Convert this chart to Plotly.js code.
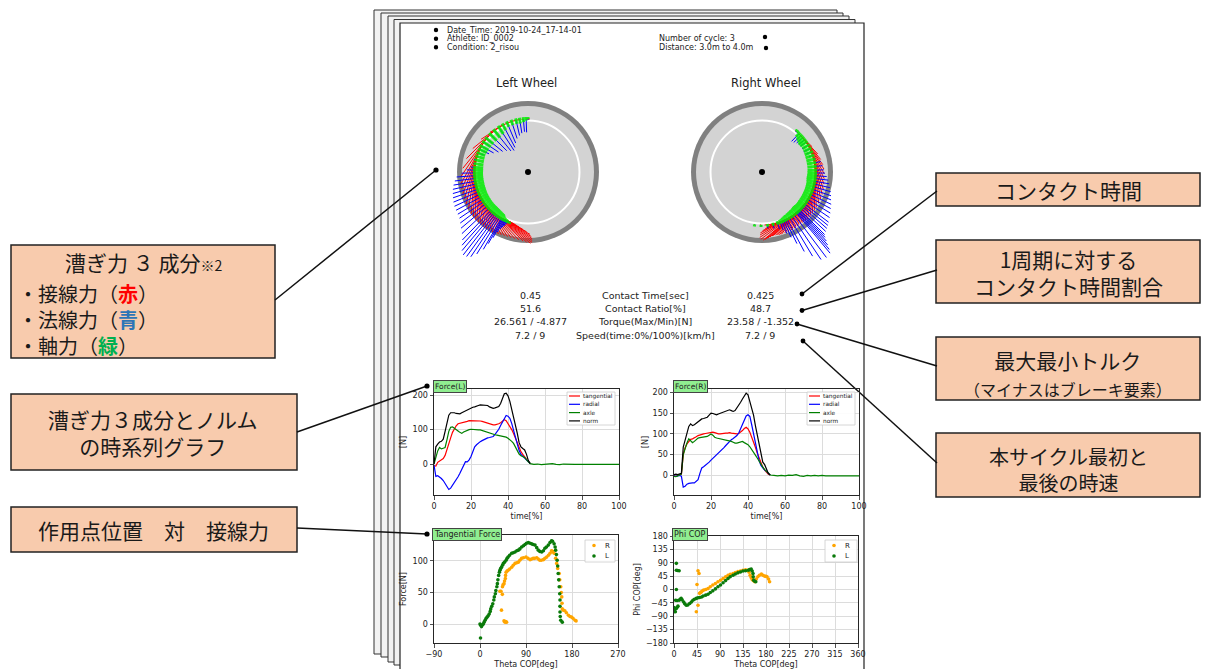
<!DOCTYPE html>
<html><head><meta charset="utf-8">
<script src="https://cdn.plot.ly/plotly-3.0.1.min.js"></script>
<style>html,body{margin:0;padding:0;background:#fff;}#chart{width:1210px;height:669px;}</style>
</head><body><div id="chart"></div>
<script>
// ---------------- DATA ----------------
const timeContact = [0,1,2,3,4,5,6,7,8,9,10,11,12,13,14,15,16,17,18,19,20,21,22,23,24,25,26,27,28,29,30,31,32,33,34,35,36,37,38,39,40,41,42,43,44,45,46,47,48,49,50,51,52];
const timeTail = [54,56,58,60,62,64,66,68,70,72,74,76,78,80,82,84,86,88,90,92,94,96,98,100];
const seriesNames = ['tangential','radial','axle','norm'];
const seriesColors = ['#ff0000','#0000ff','#008000','#000000'];
const wheelColors = ['#ff0000','#0000ff','#00ee00'];

// Left wheel force components [N]
const tanL = [-5,-6,5,9,12,16,25,40,58,76,92,103,111,117,118,119,120,122,124,126,126,127,126,126,125,125,124,122,120,118,116,115,114,114,115,117,120,124,129,126,118,110,100,89,75,60,46,36,28,20,13,7,1];
const radL = [-3,-36,-34,-37,-42,-48,-58,-68,-74,-70,-62,-55,-47,-37,-27,-17,-4,7,6,12,22,36,50,56,61,65,68,71,74,76,77,78,80,86,93,101,112,123,134,141,139,133,118,98,78,58,39,28,22,17,11,4,1];
const axlL = [0,20,38,48,44,46,48,70,95,107,108,104,101,96,92,89,93,96,98,100,101,100,100,99,99,99,97,96,95,93,91,89,87,85,84,83,82,81,80,78,75,71,66,60,50,40,29,24,21,19,12,5,1];
const normL = [0,50,58,64,66,72,95,120,142,149,150,149,147,146,146,149,152,155,158,161,163,165,166,167,170,172,172,172,172,170,166,163,162,163,165,167,176,190,204,206,198,182,160,138,114,90,62,50,45,41,28,10,2];
const axlTailL = [-1,0,-2,-1,-2,1,-1,-2,0,-1,-2,-1,-1,0,-1,-1,0,-1,-1,-1,0,-1,-1,-1];

// Right wheel force components [N]
const tanR = [-1,-2,0,1,3,50,67,76,83,87,88,90,93,96,98,99,100,101,102,103,104,104,103,101,100,100,101,102,102,102,103,102,101,100,100,101,104,108,113,116,112,104,92,81,68,54,41,30,20,13,8,3,1];
const radR = [-1,-2,-1,0,-2,-28,-26,-21,-19,-18,-18,-18,-15,-10,5,18,21,24,27,32,37,41,45,50,54,58,63,67,72,77,82,86,89,92,96,102,112,122,134,143,146,142,122,100,72,50,36,24,18,13,10,5,1];
const axlR = [-2,-3,-1,1,3,50,66,78,88,84,79,82,87,90,91,92,92,93,94,97,100,97,92,90,89,88,88,87,86,85,84,82,80,78,78,79,81,82,79,77,74,69,63,56,49,42,34,27,20,14,9,4,1];
const normR = [2,3,2,3,5,68,84,100,118,124,120,122,126,130,134,136,137,138,140,145,150,149,147,146,148,150,151,153,155,157,158,156,154,156,162,168,176,184,192,198,194,178,160,145,120,98,68,45,32,26,15,5,2];
const axlTailR = [0,-1,0,-1,1,0,2,-1,-2,0,-1,0,-1,0,-1,-1,0,-1,-1,-1,-1,-1,-1,-1];

// Theta COP [deg] at each contact sample (for the wheel vector plots)
const thetaWheelL = [0,2,5,9,13,18,23,28,33,39,45,51,56,61,65,69,73,77,81,85,88,91,94,97,100,103,106,109,112,115,118,121,124,127,130,133,136,138,140,142,144,146,148,150,151,152,153,154,155,156,157,158,160];
const thetaWheelR = [40,40,41,41,42,44,47,50,53,56,60,64,68,72,76,80,84,88,91,94,97,100,103,106,109,112,115,118,121,124,127,129,131,133,135,136,137,138,139,140,143,146,149,152,154,156,158,160,163,168,174,181,188];

// Tangential force vs Theta COP
const tfThetaL = [1,0,1.5,3,5,6.5,8,10,12,14,16,18,20,21,23,25,27,28,30,31,33,34,35,36.5,38,39,40.5,42,44,45.7,48,51,53,55,58,62,65,68.5,72,75,78,81.5,85,88,91,94.6,98,101,104,107.6,111,114,117,120.7,124,127,130,133.7,137,140,142,145,147,148,149.5,151,152,153,154,155,156,156.5,156.5,156.5,157,158,161];
const tfForceL = [-22,0,-2,-4,-1,0,3,6,9,11,13,16,20,24,28,32,38,43,48,53,59,64,70,77,82,85,88,90,93,96,98,101,104,106,109,112,113,114,116,117,119,122,124,126,128,129,128,127,126,125,121,117,115,114,116,120,122,125,129,132,131,127,122,117,110,101,92,80,70,59,48,38,28,19,12,6,3];
const tfThetaR = [39,41,42,43.7,44,45,47,48,49.6,50,51,53,55,58,62,65,68.5,72,75,78,81.5,85,90,94,98,101,104,107,111,114,117,120,124,127,130.5,134,137,140,142,145,148,150,152,155,156,158,159,160,160.5,161,163,166,169,173,176,179,182,186,188,47,49,52,50];
const tfForceR = [52,52,22,47,59,62,64,68,72,77,82,84,85,87,90,93,96,97,98,101,104,105,106,104,102,103,104,104,105,103,101,101,102,104,106,109,112,116,115,112,104,96,88,80,70,59,50,43,33,24,22,21,18,14,12,11,9,6,5,5,3,3,4];

// Phi COP vs Theta COP
const phiThetaL = [4.6,4.6,7,10,4.6,0,1,2.6,4.6,6,7.8,3.3,6,10,12,14,16,19,21,24,27,30.7,34,37,40,43.7,47,50,54,57,62,66.5,71,76,81,86,91,96,101,105.7,110,115.5,120,125,130,135,140,145,148,151,153,154.6,155,156,158,160];
const phiL = [88,65,64,63,0,-61,-68,-75,-64,-60,-56,-36,-37,-36,-33,-30,-35,-42,-48,-53,-52,-47,-42,-36,-33,-30,-28,-27,-25,-22,-19,-16,-10,-4.5,2,9,15,22.5,30,37,43,48,52,56,59,62,63,65,67,69,62,54,43,31.5,28,26];
const phiThetaR = [43.7,45,47,47,49,50,52,53.5,56,58,62,66.5,71,76,81,86,91,96,101,105.7,110,115.5,120,125,130,135,140,145,147,149,151,153,155,158,161,164,167,171,174,177,180,182,185,187];
const phiR = [-75,17,-53,63,54,-13,-10,-8,-4,-2,0,3,9,15,20,26,31,37,43,48,51,54,57,60,62,65,66,65,58,48,40,34,30,26,35,43,48,52,48,45,44,43,35,26];

// Header / statistics text
const headerLeft = ['Date_Time: 2019-10-24_17-14-01','Athlete: ID_0002','Condition: 2_risou'];
const headerRight = ['Number of cycle: 3','Distance: 3.0m to 4.0m'];
const statLabels = ['Contact Time[sec]','Contact Ratio[%]','Torque(Max/Min)[N]','Speed(time:0%/100%)[km/h]'];
const statLeft = ['0.45','51.6','26.561 / -4.877','7.2 / 9'];
const statRight = ['0.425','48.7','23.58 / -1.352','7.2 / 9'];

// ---------------- HELPERS ----------------
const W = 1210, H = 669;
const px = x => x / W;
const py = y => 1 - y / H;
const FONT = 'DejaVu Sans';
const JFONT = 'Noto Sans CJK JP';
const shapes = [];
const annotations = [];

function rectPx(x0, y0, x1, y1, fill, lc, lw, layer) {
  shapes.push({type:'rect', xref:'paper', yref:'paper', x0:px(x0), x1:px(x1), y0:py(y1), y1:py(y0),
    fillcolor:fill, line:{color:lc, width:lw}, layer:layer || 'below'});
}
function linePx(x0, y0, x1, y1, c, w, layer) {
  shapes.push({type:'line', xref:'paper', yref:'paper', x0:px(x0), y0:py(y0), x1:px(x1), y1:py(y1),
    line:{color:c, width:w}, layer:layer || 'below'});
}
function dotPx(cx, cy, r, c, layer) {
  shapes.push({type:'circle', xref:'paper', yref:'paper', x0:px(cx - r), x1:px(cx + r), y0:py(cy + r), y1:py(cy - r),
    fillcolor:c, line:{color:c, width:0}, layer:layer || 'below'});
}
function txt(x, y, text, size, o) {
  o = o || {};
  annotations.push({xref:'paper', yref:'paper', x:px(x), y:py(y), text:text, showarrow:false,
    xanchor:o.xanchor || 'center', yanchor:o.yanchor || 'middle', align:o.align || 'center',
    font:{family:o.family || FONT, size:size, color:o.color || '#222'},
    bgcolor:o.bgcolor, bordercolor:o.bordercolor, borderwidth:o.borderwidth || 0, borderpad:o.borderpad || 0});
}

// ---------------- PAGES ----------------
const pages = [[374,10,837,654],[381,13,843,657],[388,16,849,662],[394,19.5,855,665]];
pages.forEach(p => rectPx(p[0], p[1], p[2], p[3], '#f2f2f2', '#333333', 1));
rectPx(400, 23, 864, 700, '#ffffff', '#222222', 1.2);

// header
headerLeft.forEach((t, i) => { const y = [30, 38.7, 47.3][i]; dotPx(436, y, 2.2, '#000'); txt(447, y, t, 8, {xanchor:'left'}); });
headerRight.forEach((t, i) => { const y = [38.3, 47][i]; txt(659, y, t, 8, {xanchor:'left'}); });
dotPx(765, 37, 2.2, '#000'); dotPx(766, 48, 2.2, '#000');

txt(526, 83, 'Left Wheel', 11.5);
txt(766, 83, 'Right Wheel', 11.5);

// stats
const statY = [295, 308.3, 321.7, 335];
statLabels.forEach((t, i) => {
  txt(530, statY[i], statLeft[i], 9.5);
  txt(645, statY[i], t, 9.5);
  txt(760, statY[i], statRight[i], 9.5);
});

// ---------------- CALLOUT BOXES ----------------
const BOXF = '#f8cbad', BOXL = '#222222';
rectPx(11, 245, 275, 358, BOXF, BOXL, 1.5);
rectPx(11, 394, 297, 470, BOXF, BOXL, 1.5);
rectPx(11, 507, 297, 552, BOXF, BOXL, 1.5);
rectPx(936, 173, 1200, 206, BOXF, BOXL, 1.5);
rectPx(936, 240, 1200, 303, BOXF, BOXL, 1.5);
rectPx(936, 337, 1200, 400, BOXF, BOXL, 1.5);
rectPx(936, 433, 1200, 497, BOXF, BOXL, 1.5);

const jt = {family:JFONT, color:'#1a1a1a'};
txt(143, 262, '漕ぎ力 ３ 成分<span style="font-size:14px">※2</span>', 21, jt);
txt(18, 319, '・接線力（<span style="color:#ff0000;font-weight:bold">赤</span>）<br>' +
             '・法線力（<span style="color:#2e75b6;font-weight:bold">青</span>）<br>' +
             '・軸力（<span style="color:#00b050;font-weight:bold">緑</span>）', 20, Object.assign({xanchor:'left', align:'left'}, jt));
txt(153, 432.5, '漕ぎ力３成分とノルム<br>の時系列グラフ', 21, jt);
txt(153, 530, '作用点位置　対　接線力', 21, jt);
txt(1068, 190, 'コンタクト時間', 21, jt);
txt(1068, 272.5, '1周期に対する<br>コンタクト時間割合', 21, jt);
txt(1068, 373.5, '最大最小トルク<br><span style="font-size:16px">（マイナスはブレーキ要素）</span>', 21, jt);
txt(1068, 469.5, '本サイクル最初と<br>最後の時速', 20, jt);

// callout lines + dots
linePx(275, 300, 436, 170, '#111', 1.5); dotPx(436, 170, 2.6, '#000');
linePx(297, 432, 427, 386, '#111', 1.5); dotPx(427, 386, 2.6, '#000');
linePx(297, 528, 427, 534, '#111', 1.5); dotPx(427, 534, 2.6, '#000');
linePx(802, 294, 937, 191, '#111', 1.5); dotPx(802, 294, 2.4, '#000');
linePx(802, 310.5, 937, 270, '#111', 1.5); dotPx(802, 310.5, 2.4, '#000');
linePx(797, 324, 937, 366, '#111', 1.5); dotPx(797, 324, 2.4, '#000');
linePx(803, 341, 937, 463, '#111', 1.5); dotPx(803, 341, 2.4, '#000');

// ---------------- WHEELS ----------------
function wheelShapes(xr, yr) {
  const c = (r, fill, lc, lw) => shapes.push({type:'circle', xref:xr, yref:yr, x0:-r, x1:r, y0:-r, y1:r,
    fillcolor:fill, line:{color:lc, width:lw}, layer:'below'});
  c(71, '#808080', '#808080', 0);
  c(66, '#d3d3d3', '#d3d3d3', 0);
  c(51.5, 'rgba(0,0,0,0)', '#ffffff', 2);
  c(3, '#000000', '#000000', 0);
}
wheelShapes('x5', 'y5');
wheelShapes('x6', 'y6');

function wheelTraces(theta, ft, fr, fa, dir, xa, ya) {
  const R0 = 53, k = 0.37, kg = 0.08;
  const seg = [{x:[], y:[]}, {x:[], y:[]}, {x:[], y:[]}];
  theta.forEach((th, i) => {
    const phi = (90 + dir * th) * Math.PI / 180;
    const ux = Math.cos(phi), uy = Math.sin(phi);
    const tx = -dir * uy, ty = dir * ux;
    const bx = R0 * ux, by = R0 * uy;
    seg[0].x.push(bx, bx + k * ft[i] * tx, null); seg[0].y.push(by, by + k * ft[i] * ty, null);
    seg[1].x.push(bx, bx + k * fr[i] * ux, null); seg[1].y.push(by, by + k * fr[i] * uy, null);
    seg[2].x.push(bx + 2 * ux, bx - kg * fa[i] * ux, null); seg[2].y.push(by + 2 * uy, by - kg * fa[i] * uy, null);
  });
  const widths = [1, 1, 3];
  return seg.map((s, j) => ({type:'scatter', mode:'lines', x:s.x, y:s.y, xaxis:xa, yaxis:ya,
    line:{color:wheelColors[j], width:widths[j]}, opacity: j === 2 ? 0.85 : 1, hoverinfo:'skip', showlegend:false}));
}

// ---------------- TRACES ----------------
const traces = [];
function forceTraces(tan, rad, axl, norm, axlTail, xa, ya) {
  const ys = [tan, rad, axl, norm];
  ys.forEach((y, j) => {
    let x = timeContact, yy = y;
    if (j === 2) { x = timeContact.concat(timeTail); yy = y.concat(axlTail); }
    traces.push({type:'scatter', mode:'lines', x:x, y:yy, xaxis:xa, yaxis:ya, name:seriesNames[j],
      line:{color:seriesColors[j], width:1.2}, showlegend:false, hoverinfo:'skip'});
  });
}
forceTraces(tanL, radL, axlL, normL, axlTailL, 'x', 'y');
forceTraces(tanR, radR, axlR, normR, axlTailR, 'x2', 'y2');

const COLR = '#ffa500', COLL = '#0a7a0a';
traces.push({type:'scatter', mode:'markers', x:tfThetaR, y:tfForceR, xaxis:'x3', yaxis:'y3', name:'R',
  marker:{color:COLR, size:3.6}, showlegend:false, hoverinfo:'skip'});
traces.push({type:'scatter', mode:'markers', x:tfThetaL, y:tfForceL, xaxis:'x3', yaxis:'y3', name:'L',
  marker:{color:COLL, size:3.6}, showlegend:false, hoverinfo:'skip'});
traces.push({type:'scatter', mode:'markers', x:phiThetaR, y:phiR, xaxis:'x4', yaxis:'y4', name:'R',
  marker:{color:COLR, size:3.6}, showlegend:false, hoverinfo:'skip'});
traces.push({type:'scatter', mode:'markers', x:phiThetaL, y:phiL, xaxis:'x4', yaxis:'y4', name:'L',
  marker:{color:COLL, size:3.6}, showlegend:false, hoverinfo:'skip'});

wheelTraces(thetaWheelL, tanL, radL, axlL, 1, 'x5', 'y5').forEach(t => traces.push(t));
wheelTraces(thetaWheelR, tanR, radR, axlR, -1, 'x6', 'y6').forEach(t => traces.push(t));

// ---------------- LEGENDS (small matplotlib-style boxes) ----------------
function lineLegend(x0, y0) {
  rectPx(x0, y0, x0 + 48, y0 + 33, 'rgba(255,255,255,0.9)', '#cccccc', 0.8, 'above');
  seriesNames.forEach((n, i) => {
    const y = y0 + 4 + i * 8.3;
    linePx(x0 + 2, y, x0 + 13, y, seriesColors[i], 1.2, 'above');
    txt(x0 + 16, y, n, 5.8, {xanchor:'left'});
  });
}
lineLegend(567, 392);
lineLegend(807, 392);
function dotLegend(x0, y0, w) {
  rectPx(x0, y0, x0 + w, y0 + 22, 'rgba(255,255,255,0.9)', '#cccccc', 0.8, 'above');
  [['R', COLR], ['L', COLL]].forEach((e, i) => {
    const y = y0 + 5.5 + i * 10.5;
    dotPx(x0 + 9, y, 1.8, e[1], 'above');
    txt(x0 + 20, y, e[0], 7, {xanchor:'left'});
  });
}
dotLegend(585, 540, 30);
dotLegend(825, 540, 32);

// chart label boxes
const lab = {xanchor:'left', bgcolor:'#90ee90', bordercolor:'#444', borderwidth:1, borderpad:1};
txt(433, 386.5, 'Force(L)', 7.5, lab);
txt(673, 386.5, 'Force(R)', 7.5, lab);
txt(432, 534, 'Tangential Force', 8, lab);
txt(672, 534, 'Phi COP', 8, lab);

// ---------------- AXES ----------------
function ax(domain, range, extra) {
  return Object.assign({domain:domain, range:range, showline:true, mirror:true, linecolor:'#262626', linewidth:1,
    ticks:'outside', ticklen:3.5, tickwidth:0.8, tickcolor:'#262626',
    tickfont:{family:FONT, size:8, color:'#222'}, showgrid:true, gridcolor:'#dcdcdc', gridwidth:1,
    zeroline:false, fixedrange:true}, extra);
}
const tfont = {family:FONT, size:8, color:'#222'};
const hidden = r => ({range:r, visible:false, fixedrange:true});

const layout = {
  width:W, height:H, margin:{l:0, r:0, t:0, b:0}, paper_bgcolor:'#ffffff', plot_bgcolor:'rgba(0,0,0,0)',
  showlegend:false, hovermode:false,
  xaxis: ax([px(434), px(619)], [0, 100], {anchor:'y', dtick:20, tick0:0, title:{text:'time[%]', font:tfont, standoff:3}}),
  yaxis: ax([py(495), py(389)], [-90, 218], {anchor:'x', tickvals:[0, 100, 200], title:{text:'[N]', font:tfont, standoff:4}}),
  xaxis2: ax([px(674), px(859)], [0, 100], {anchor:'y2', dtick:20, tick0:0, title:{text:'time[%]', font:tfont, standoff:3}}),
  yaxis2: ax([py(495), py(389)], [-47, 208], {anchor:'x2', dtick:50, tick0:0, title:{text:'[N]', font:tfont, standoff:2}}),
  xaxis3: ax([px(434), px(618)], [-90, 270], {anchor:'y3', dtick:90, tick0:0, title:{text:'Theta COP[deg]', font:tfont, standoff:3}}),
  yaxis3: ax([py(643), py(535)], [-30, 141], {anchor:'x3', tickvals:[0, 50, 100], title:{text:'Force[N]', font:tfont, standoff:4}}),
  xaxis4: ax([px(674), px(858)], [0, 360], {anchor:'y4', dtick:45, tick0:0, title:{text:'Theta COP[deg]', font:tfont, standoff:3}}),
  yaxis4: ax([py(643), py(536)], [-180, 180], {anchor:'x4', dtick:45, tick0:0, title:{text:'Phi COP[deg]', font:tfont, standoff:4}}),
  xaxis5: Object.assign(hidden([-95, 95]), {domain:[px(433), px(623)], anchor:'y5'}),
  yaxis5: Object.assign(hidden([-95, 95]), {domain:[py(267), py(77)], anchor:'x5'}),
  xaxis6: Object.assign(hidden([-95, 95]), {domain:[px(667), px(857)], anchor:'y6'}),
  yaxis6: Object.assign(hidden([-95, 95]), {domain:[py(267), py(77)], anchor:'x6'}),
  shapes:shapes, annotations:annotations
};

Plotly.newPlot('chart', traces, layout, {staticPlot:true, displayModeBar:false});
</script>
</body></html>
